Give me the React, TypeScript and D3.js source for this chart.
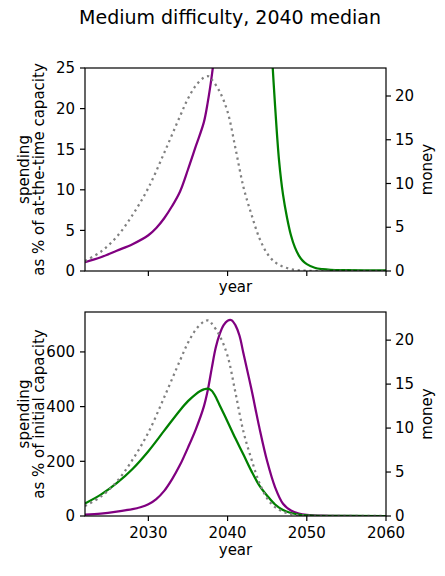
import React from "react";
import * as d3 from "d3";

// money (right axis), shared by both panels
const moneyYears = [2022, 2024, 2026, 2028, 2030, 2032, 2034, 2035, 2036, 2037, 2037.6, 2038, 2039, 2040, 2041, 2042, 2043, 2044, 2045, 2046, 2047, 2048, 2049, 2050, 2052, 2060];
const moneyValues = [1.15, 2.2, 3.9, 6.4, 9.5, 13.5, 17.7, 19.7, 21.2, 22.1, 22.25, 21.9, 20.5, 18.2, 14.0, 9.6, 6.5, 3.8, 2.0, 1.0, 0.5, 0.22, 0.08, 0.03, 0.01, 0];

// top panel: spending as % of at-the-time capacity
const atTimePurpleYears = [2022, 2024, 2026, 2028, 2030, 2031, 2032, 2033, 2034, 2035, 2036, 2037, 2037.5, 2038, 2038.5];
const atTimePurpleValues = [1.1, 1.7, 2.5, 3.3, 4.4, 5.3, 6.5, 8.0, 9.8, 12.5, 15.4, 18.3, 20.8, 24.0, 28];
const atTimeGreenYears = [2045.4, 2045.7, 2046, 2046.5, 2047, 2047.5, 2048, 2048.5, 2049, 2049.5, 2050, 2051, 2052, 2053, 2055, 2060];
const atTimeGreenValues = [30, 25, 20.3, 13.6, 9.4, 6.6, 4.4, 2.9, 1.9, 1.25, 0.85, 0.4, 0.22, 0.14, 0.1, 0.08];

// bottom panel: spending as % of initial capacity
const initialPurpleYears = [2022, 2024, 2026, 2028, 2029, 2030, 2031, 2032, 2033, 2034, 2035, 2036, 2037, 2037.5, 2038, 2038.5, 2039, 2039.5, 2040, 2040.5, 2041, 2041.5, 2042, 2043, 2044, 2045, 2046, 2047, 2048, 2049, 2050, 2052, 2060];
const initialPurpleValues = [5, 9, 16, 25, 32, 43, 62, 92, 135, 187, 250, 318, 400, 460, 540, 615, 665, 698, 714, 716, 697, 660, 595, 465, 325, 200, 105, 45, 20, 9, 4, 1, 0];
const initialGreenYears = [2022, 2024, 2026, 2028, 2030, 2032, 2034, 2035, 2036, 2036.5, 2037, 2037.5, 2038, 2038.6, 2039, 2040, 2041, 2042, 2043, 2044, 2045, 2046, 2047, 2048, 2049, 2050, 2052, 2060];
const initialGreenValues = [46, 78, 120, 172, 237, 312, 387, 420, 446, 456, 463, 466, 458, 430, 405, 345, 283, 225, 165, 112, 74, 42, 22, 11, 5, 2, 0.5, 0];

const xTicks = [2030, 2040, 2050, 2060];
const topTicks = [0, 5, 10, 15, 20, 25];
const bottomTicks = [0, 200, 400, 600];
const moneyTicks = [0, 5, 10, 15, 20];

const FONT = "DejaVu Sans";
const LEFT = 85;
const RIGHT = 386;
const TICK = 5;

const x = d3.scaleLinear().domain([2022, 2060]).range([LEFT, RIGHT]);

interface PanelProps {
  id: string;
  top: number;
  bottom: number;
  leftMax: number;
  leftTicks: number[];
  purple: [number, number][];
  green: [number, number][];
  labelLines: string[];
  xLabels: boolean;
  xLabelY: number;
}

const Panel = ({ id, top, bottom, leftMax, leftTicks, purple, green, labelLines, xLabels, xLabelY }: PanelProps) => {
  const yL = d3.scaleLinear().domain([0, leftMax]).range([bottom, top]);
  const yR = d3.scaleLinear().domain([0, 23.2]).range([bottom, top]);
  const curve = d3.curveCatmullRom.alpha(0.5);
  const lineL = d3.line<[number, number]>().x((d) => x(d[0])).y((d) => yL(d[1])).curve(curve);
  const lineR = d3.line<[number, number]>().x((d) => x(d[0])).y((d) => yR(d[1])).curve(curve);
  const money = d3.zip(moneyYears, moneyValues) as [number, number][];
  const midY = (top + bottom) / 2;

  return (
    <g>
      <clipPath id={id}>
        <rect x={LEFT} y={top} width={RIGHT - LEFT} height={bottom - top} />
      </clipPath>
      <g clipPath={`url(#${id})`} fill="none" strokeWidth={2.25}>
        <path d={lineL(purple)!} stroke="purple" />
        <path d={lineL(green)!} stroke="green" />
        <path d={lineR(money)!} stroke="grey" strokeDasharray="2.25 3.7" />
      </g>
      <rect x={LEFT} y={top} width={RIGHT - LEFT} height={bottom - top} fill="none" stroke="#000" strokeWidth={1.2} />

      {/* x ticks */}
      {xTicks.map((t) => (
        <g key={t}>
          <line x1={x(t)} x2={x(t)} y1={bottom} y2={bottom + TICK} stroke="#000" strokeWidth={1.2} />
          {xLabels && (
            <text x={x(t)} y={bottom + 21.5} textAnchor="middle" fontSize={15}>
              {t}
            </text>
          )}
        </g>
      ))}
      <text x={(LEFT + RIGHT) / 2} y={xLabelY} textAnchor="middle" fontSize={15}>
        year
      </text>

      {/* left axis */}
      {leftTicks.map((t) => (
        <g key={t}>
          <line x1={LEFT - TICK} x2={LEFT} y1={yL(t)} y2={yL(t)} stroke="#000" strokeWidth={1.2} />
          <text x={LEFT - TICK - 5} y={yL(t) + 5.3} textAnchor="end" fontSize={15}>
            {t}
          </text>
        </g>
      ))}
      {labelLines.map((s, i) => (
        <text key={s} transform={`translate(${28.5 + i * 15},${midY}) rotate(-90)`} textAnchor="middle" fontSize={15}>
          {s}
        </text>
      ))}

      {/* right axis */}
      {moneyTicks.map((t) => (
        <g key={t}>
          <line x1={RIGHT} x2={RIGHT + TICK} y1={yR(t)} y2={yR(t)} stroke="#000" strokeWidth={1.2} />
          <text x={RIGHT + TICK + 4} y={yR(t) + 5} fontSize={15}>
            {t}
          </text>
        </g>
      ))}
      <text transform={`translate(431.5,${midY}) rotate(-90)`} textAnchor="middle" fontSize={15}>
        money
      </text>
    </g>
  );
};

export default function App() {
  const zipPairs = (a: number[], b: number[]) => d3.zip(a, b) as [number, number][];
  return (
    <svg
      width={445}
      height={576}
      style={{ position: "absolute", left: 0, top: 0, background: "#fff" }}
      fontFamily={FONT}
      fill="#000"
    >
      <text x={230} y={24} textAnchor="middle" fontSize={19}>
        Medium difficulty, 2040 median
      </text>
      <Panel
        id="clip-top"
        top={68}
        bottom={271}
        leftMax={25}
        leftTicks={topTicks}
        purple={zipPairs(atTimePurpleYears, atTimePurpleValues)}
        green={zipPairs(atTimeGreenYears, atTimeGreenValues)}
        labelLines={["spending", "as % of at-the-time capacity"]}
        xLabels={false}
        xLabelY={291.5}
      />
      <Panel
        id="clip-bottom"
        top={312}
        bottom={516}
        leftMax={746}
        leftTicks={bottomTicks}
        purple={zipPairs(initialPurpleYears, initialPurpleValues)}
        green={zipPairs(initialGreenYears, initialGreenValues)}
        labelLines={["spending", "as % of initial capacity"]}
        xLabels={true}
        xLabelY={555}
      />
    </svg>
  );
}
